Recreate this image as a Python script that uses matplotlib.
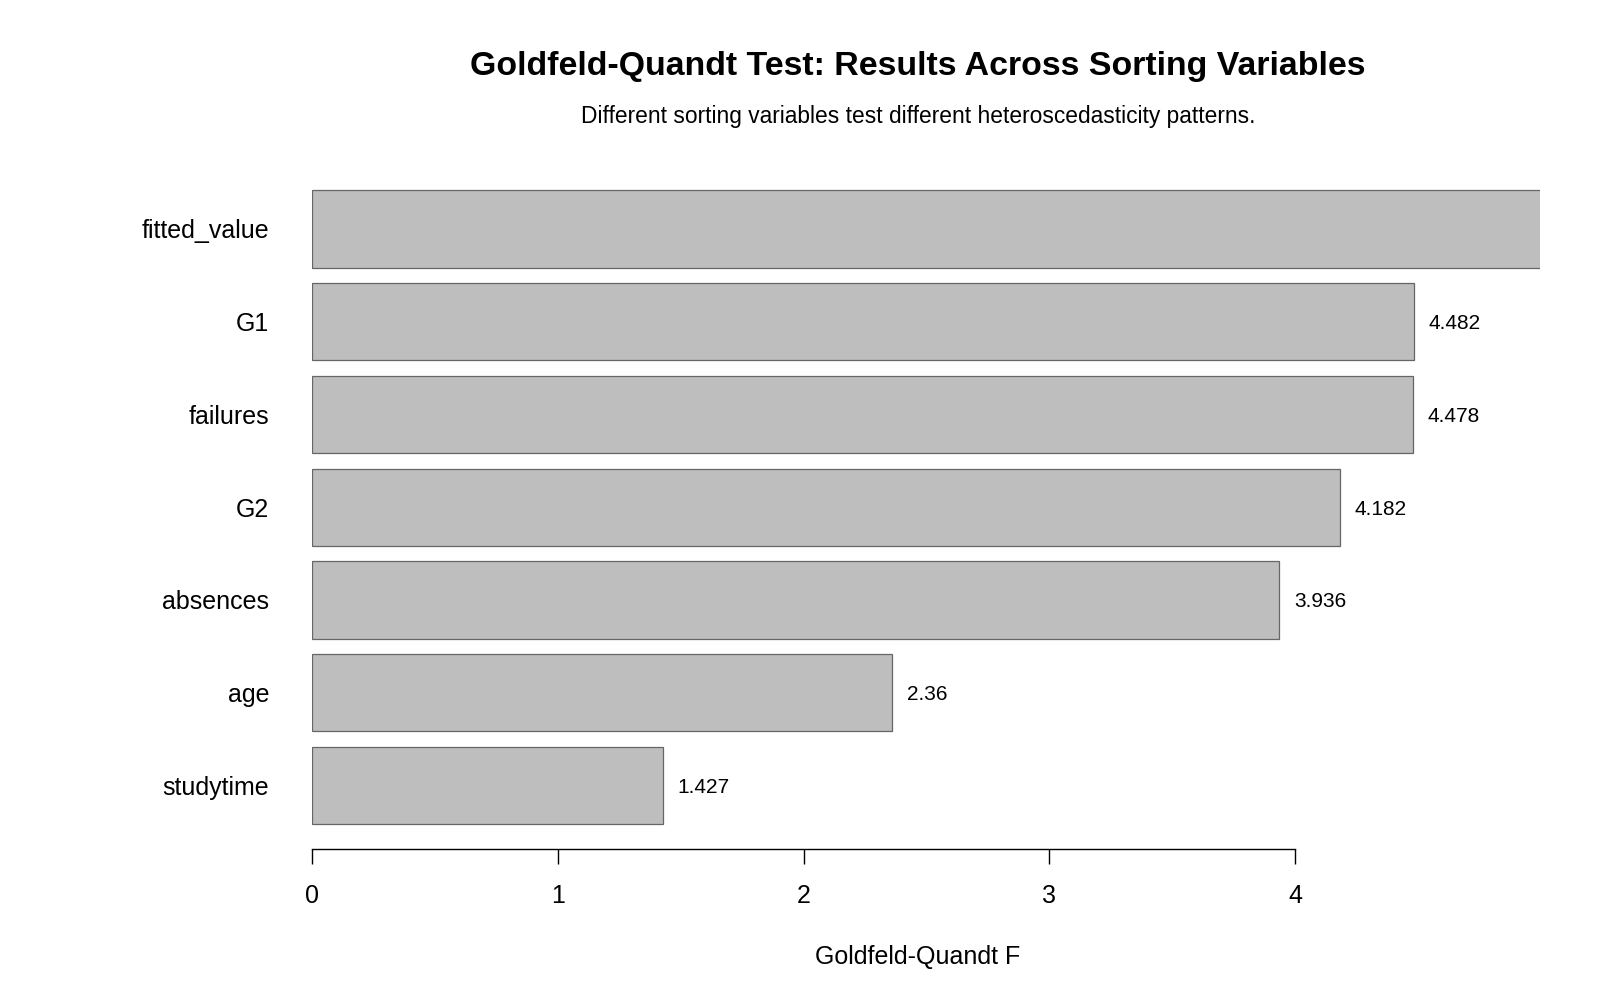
import matplotlib
matplotlib.use("Agg")
import matplotlib.pyplot as plt

plt.rcParams['font.family'] = ['Liberation Sans', 'DejaVu Sans']

# Goldfeld-Quandt F by sorting variable (top to bottom)
variables = ['fitted_value', 'G1', 'failures', 'G2', 'absences', 'age', 'studytime']
f_values = [5.6, 4.482, 4.478, 4.182, 3.936, 2.36, 1.427]
tick_vals = [0, 1, 2, 3, 4]

x_max = 4.995

fig = plt.figure(figsize=(16, 10), dpi=100)
ax = fig.add_axes([0.1952, 0.1507, 0.7671, 0.6843])

ypos = list(range(len(variables)))[::-1]
ax.barh(ypos, f_values, height=1/1.2, color='#bebebe', edgecolor='#666666', linewidth=0.9)

# value labels; the ones past the plot edge get clipped away (as in the original)
for y, v in zip(ypos, f_values):
    if v + 0.06 < x_max:
        ax.text(v + 0.06, y - 0.02, f'{v:g}', va='center', ha='left', fontsize=15)

ax.set_xlim(0, x_max)
ax.set_ylim(-0.4167 - 0.273, 6.4167 + 0.273)

for s in ['top', 'right', 'left']:
    ax.spines[s].set_visible(False)
ax.spines['bottom'].set_bounds(0, 4)
ax.spines['bottom'].set_linewidth(1.0)
ax.set_xticks(tick_vals)
ax.tick_params(axis='x', length=11, width=1.0, pad=14, labelsize=18)
ax.set_yticks(ypos)
ax.set_yticklabels(variables)
ax.tick_params(axis='y', length=0, pad=31, labelsize=18)

ax.set_xlabel('Goldfeld-Quandt F', fontsize=18)
ax.xaxis.set_label_coords((918 - 312.3) / (1539.7 - 312.3), -0.14)

fig.text(918 / 1600, 1 - 67 / 1000, 'Goldfeld-Quandt Test: Results Across Sorting Variables',
         ha='center', va='center', fontsize=24.4, fontweight='bold')
fig.text(918 / 1600, 1 - 117 / 1000, 'Different sorting variables test different heteroscedasticity patterns.',
         ha='center', va='center', fontsize=16.4)

fig.savefig('out.png', dpi=100, facecolor='white')
